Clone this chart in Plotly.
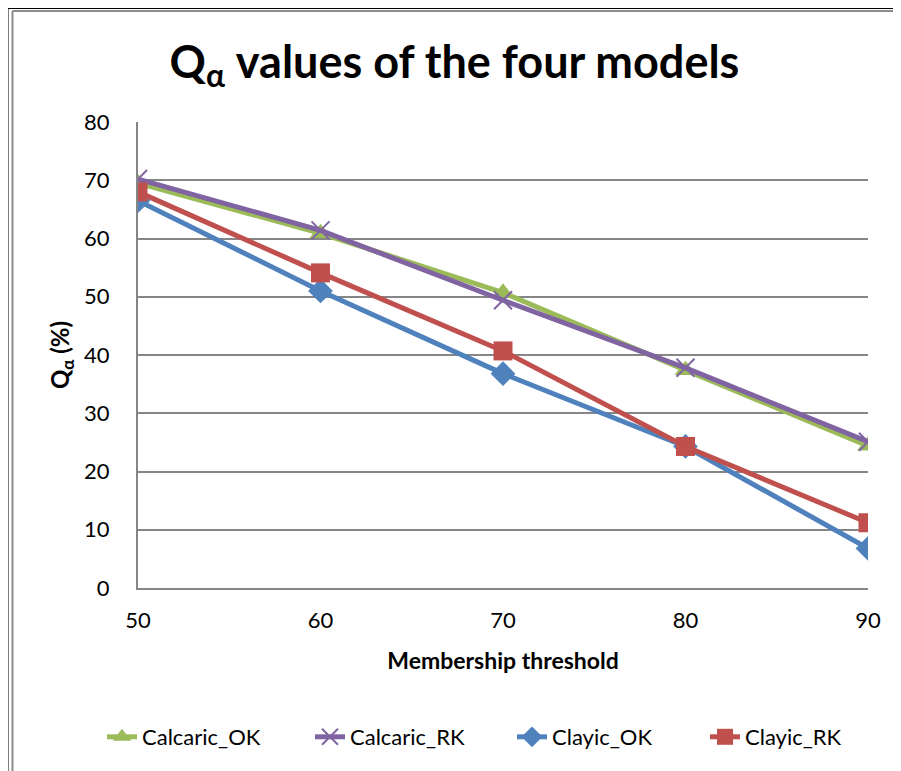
import plotly.graph_objects as go

thresholds = [50, 60, 70, 80, 90]
calcaric_ok = [69.5, 60.9, 50.7, 37.4, 24.4]
calcaric_rk = [70.2, 61.4, 49.4, 37.8, 25.1]
clayic_ok = [66.5, 51.0, 36.8, 24.3, 6.8]
clayic_rk = [68.0, 54.1, 40.7, 24.3, 11.2]
y_ticks = [0, 10, 20, 30, 40, 50, 60, 70, 80]
x_ticks = [50, 60, 70, 80, 90]

FONT = "Lato"

series = [
    ("Calcaric_OK", calcaric_ok, "#9BBB59", dict(symbol="triangle-up", size=19)),
    ("Calcaric_RK", calcaric_rk, "#8064A2", dict(symbol="x-thin", size=18, line=dict(width=2, color="#8064A2"))),
    ("Clayic_OK", clayic_ok, "#4F81BD", dict(symbol="diamond", size=19)),
    ("Clayic_RK", clayic_rk, "#C0504D", dict(symbol="square", size=19)),
]
legend_ids = ["legend", "legend2", "legend3", "legend4"]
legend_text_starts = [142, 350, 552, 745]  # where each legend label begins in the reference

fig = go.Figure()
for (name, vals, color, mk), lid in zip(series, legend_ids):
    fig.add_trace(go.Scatter(
        x=thresholds, y=vals, name=name, mode="lines+markers",
        line=dict(color=color, width=5),
        marker=dict(color=color, **mk),
        legend=lid,
    ))

# page body has an 8px margin; figure is sized so the plot lands where the reference has it
W, H = 893, 763
L, T, PW, PH = 130, 114, 730, 466
R = W - L - PW
B = H - T - PH

def px(xabs):
    return (xabs - 8 - L) / PW

def py(yabs):
    return (T + PH - (yabs - 8)) / PH

legends = {}
for lid, tx in zip(legend_ids, legend_text_starts):
    legends[lid] = dict(orientation="h", xref="container", x=(tx - 8 - 40) / W, xanchor="left",
                        yref="container", y=1 - (737 - 8) / H, yanchor="middle",
                        font=dict(family=FONT, size=22), bgcolor="rgba(0,0,0,0)")

fig.update_layout(
    width=W, height=H,
    margin=dict(l=L, r=R, t=T, b=B, autoexpand=False),
    paper_bgcolor="white", plot_bgcolor="white",
    font=dict(family=FONT, size=22, color="black"),
    title=dict(text="<b>Q<sub>α</sub> values of the four models</b>",
               x=0.5, xanchor="center", y=1 - 54 / H, yanchor="middle",
               font=dict(family=FONT, size=45, color="black")),
    showlegend=True,
    xaxis=dict(range=[50, 90], tickvals=x_ticks, showgrid=False, zeroline=False,
               showline=True, linecolor="#868686", linewidth=2, ticks="",
               ticklabelstandoff=12, tickfont=dict(size=22),
               title=dict(text="<b>Membership threshold</b>", font=dict(family=FONT, size=23), standoff=20)),
    yaxis=dict(range=[0, 80], tickvals=y_ticks, showgrid=True, gridcolor="#868686", gridwidth=2,
               zeroline=False, showline=True, linecolor="#868686", linewidth=2, ticks="",
               ticklabelstandoff=22, tickfont=dict(size=22),
               title=dict(text="<b>Q<sub>α</sub> (%)</b>", font=dict(family=FONT, size=24), standoff=8)),
    shapes=[
        dict(type="line", xref="paper", yref="paper", x0=px(7.5), x1=px(7.5),
             y0=py(8), y1=py(800), line=dict(color="black", width=2)),
        dict(type="line", xref="paper", yref="paper", x0=px(7.5), x1=px(950),
             y0=py(8), y1=py(8), line=dict(color="black", width=2)),
        dict(type="line", xref="paper", yref="paper", x0=px(12.5), x1=px(12.5),
             y0=py(11), y1=py(800), line=dict(color="#8c8c8c", width=2)),
        dict(type="line", xref="paper", yref="paper", x0=px(12.5), x1=px(950),
             y0=py(11), y1=py(11), line=dict(color="#8c8c8c", width=2)),
    ],
    **legends,
)

fig.write_html("out.html")
